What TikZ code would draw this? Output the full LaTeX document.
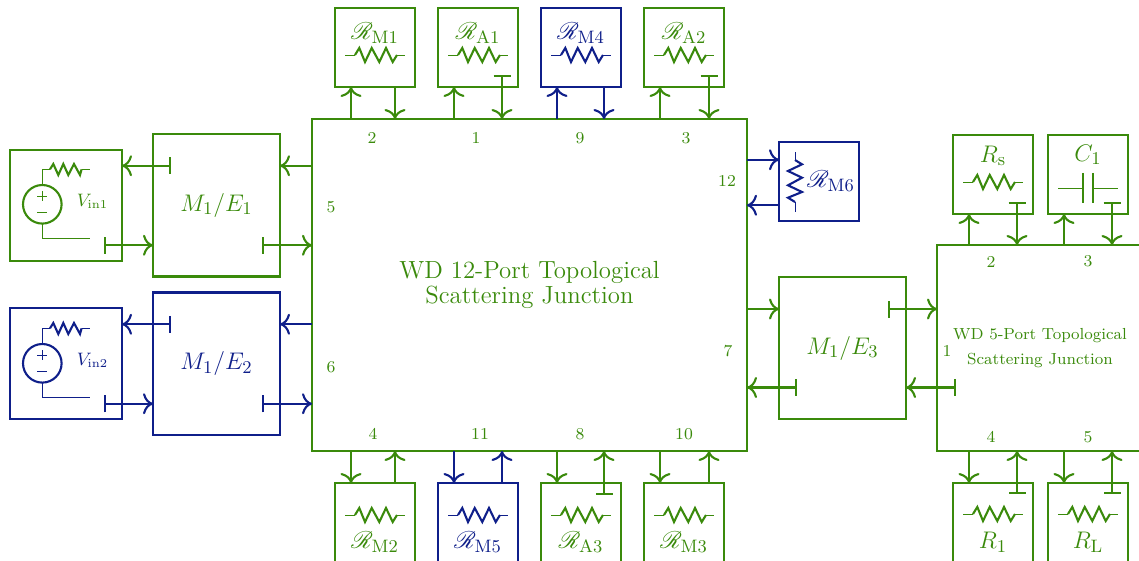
\documentclass[tikz,border=0pt]{standalone}
\usepackage{amsmath}
\usepackage{mathrsfs}
\usepackage{tikz}
\usetikzlibrary{arrows.meta,positioning}
\definecolor{wdgreen}{HTML}{3A8A0B}
\definecolor{wdblue}{HTML}{0F1F8A}

\begin{document}
\begin{tikzpicture}[
x=.5pt,y=-.5pt,
node distance=16pt and 11.5pt,
box/.style={draw,line width=1.1pt,outer sep=0pt,inner sep=0pt,align=center},
gbox/.style={box,draw=wdgreen,text=wdgreen},
bbox/.style={box,draw=wdblue,text=wdblue},
small/.style={minimum width=40pt,minimum height=39.5pt},
conv/.style={minimum width=63.5pt,minimum height=71.25pt,font=\fontsize{12.7}{15}\selectfont},
src/.style={minimum width=56pt,minimum height=55.5pt},
gtxt/.style={text=wdgreen,inner sep=0pt},
btxt/.style={text=wdblue,inner sep=0pt},
prt/.style={gtxt,font=\fontsize{8.3}{10}\selectfont},
lab/.style={font=\fontsize{13}{15}\selectfont},
vlab/.style={font=\fontsize{9}{10}\selectfont},
arr/.style={-{Computer Modern Rightarrow[length=5pt,width=10.5pt]},line width=1.05pt},
tarr/.style={{Bar[width=8.5pt]}-{Computer Modern Rightarrow[length=5pt,width=10.5pt]},line width=1.05pt},
garr/.style={arr,wdgreen},
barr/.style={arr,wdblue},
gtee/.style={tarr,wdgreen},
btee/.style={tarr,wdblue},
resist/.pic={
  \draw[line width=.45pt] (-30,0) -- (-20,0) (22,0) -- (30,0);
  \draw[line width=1.05pt,line join=miter] (-20,0) -- (-15.7,-7) -- (-10,7) -- (-3.3,-7) -- (4.3,7)
    -- (11,-7) -- (17.7,7) -- (22,0);
},
vsource/.pic={
  \draw[line width=1.05pt] (0,0) circle[radius=19.3];
  \draw[line width=.45pt] (0,-19.3) -- (0,-35) -- (7.7,-35) (39.3,-35) -- (47.7,-35);
  \draw[line width=1.05pt] (7.7,-35) -- (11,-40.3) -- (16,-29.3) -- (21,-40.3) -- (26,-29.3) -- (31.7,-40.3)
    -- (37.7,-29.3) -- (39.3,-35);
  \draw[line width=.45pt] (0,19.3) -- (0,34.5) -- (47.7,34.5);
  \draw[line width=.25pt] (-5,-8.3) -- (5,-8.3) (0,-13.3) -- (0,-3.3) (-5,7.7) -- (5,7.7);
}
]
\useasboundingbox (0,0) rectangle (1139,561);
\clip (0,0) rectangle (1139,561);

% main junction
\node[gbox,minimum width=217.5pt,minimum height=166pt,font=\fontsize{12.4}{12.5}\selectfont] (wd) at (529.5,285)
  {WD 12-Port Topological \\ Scattering Junction};

% top row
\node[gbox,small,anchor=south west] (rM1) at ([shift={(23,-32)}]wd.north west) {};
\node[gbox,small,right=of rM1] (rA1) {};
\node[bbox,small,right=of rA1] (rM4) {};
\node[gbox,small,right=of rM4] (rA2) {};
% bottom row
\node[gbox,small,anchor=north west] (rM2) at ([shift={(23,32)}]wd.south west) {};
\node[bbox,small,right=of rM2] (rM5) {};
\node[gbox,small,right=of rM5] (rA3) {};
\node[gbox,small,right=of rA3] (rM3) {};
% left side
\node[gbox,conv,anchor=north east] (me1) at ([shift={(-32,15)}]wd.north west) {$M_1/E_1$};
\node[bbox,conv,below=8pt of me1] (me2) {$M_1/E_2$};
\node[gbox,src,left=15.5pt of me1] (vin1) {};
\node[bbox,src,left=15.5pt of me2] (vin2) {};
% right side
\node[gbox,conv,anchor=west] (me3) at ([shift={(32,63)}]wd.east) {$M_1/E_3$};
\node[bbox,small,above=28pt of me3.north west,anchor=south west] (rM6) {};
\node[gbox,minimum width=103pt,minimum height=103pt,right=15.5pt of me3,font=\fontsize{8}{12.5}\selectfont] (wdf)
  {WD 5-Port Topological \\ Scattering Junction};
\node[gbox,small,anchor=south west] (rs) at ([shift={(16,-31)}]wdf.north west) {};
\node[gbox,small,right=7.5pt of rs] (cone) {};
\node[gbox,small,anchor=north west] (rone) at ([shift={(16,32)}]wdf.south west) {};
\node[gbox,small,right=7.5pt of rone] (rl) {};

% element symbols
\pic[color=wdgreen] at (375,55) {resist};
\pic[color=wdgreen] at (478,55) {resist};
\pic[color=wdblue] at (581,55) {resist};
\pic[color=wdgreen] at (684,55) {resist};
\pic[color=wdgreen] at (375,515) {resist};
\pic[color=wdblue] at (478,515) {resist};
\pic[color=wdgreen] at (581,515) {resist};
\pic[color=wdgreen] at (684,515) {resist};
\pic[color=wdblue,rotate=90] at (795,182) {resist};
\pic[color=wdgreen] at (993,182) {resist};
\pic[color=wdgreen] at (993,514) {resist};
\pic[color=wdgreen] at (1088,514) {resist};
\pic[color=wdgreen] at (42.3,204.3) {vsource};
\pic[color=wdblue] at (42.3,363.3) {vsource};
\draw[wdgreen,line width=.45pt] (1058,188) -- (1083,188) (1093,188) -- (1118,188);
\draw[wdgreen,line width=1.05pt] (1083,173) -- (1083,203) (1093,173) -- (1093,203);

% element labels
\node[gtxt,lab] (lM1) at (375,33) {$\mathscr{R}_{\mathrm{M1}}$};
\node[gtxt,lab] (lA1) at (478,33) {$\mathscr{R}_{\mathrm{A1}}$};
\node[btxt,lab] (lM4) at (581,33) {$\mathscr{R}_{\mathrm{M4}}$};
\node[gtxt,lab] (lA2) at (684,33) {$\mathscr{R}_{\mathrm{A2}}$};
\node[gtxt,lab] (lM2) at (375,542) {$\mathscr{R}_{\mathrm{M2}}$};
\node[btxt,lab] (lM5) at (478,542) {$\mathscr{R}_{\mathrm{M5}}$};
\node[gtxt,lab] (lA3) at (581,542) {$\mathscr{R}_{\mathrm{A3}}$};
\node[gtxt,lab] (lM3) at (684,542) {$\mathscr{R}_{\mathrm{M3}}$};
\node[btxt,lab] (lM6) at (831,181) {$\mathscr{R}_{\mathrm{M6}}$};
\node[gtxt,lab] (lrs) at (993,156) {$R_{\mathrm{s}}$};
\node[gtxt,lab] (lcone) at (1088,155) {$C_1$};
\node[gtxt,lab] (lrone) at (993,542) {$R_1$};
\node[gtxt,lab] (lrl) at (1088,542) {$R_{\mathrm{L}}$};
\node[gtxt,vlab] (lvone) at (92.5,201) {$V_{\mathrm{in}1}$};
\node[btxt,vlab] (lvtwo) at (92.5,360) {$V_{\mathrm{in}2}$};

% port numbers
\node[prt] (ptwo) at (372,138) {2};
\node[prt] (pone) at (476,138) {1};
\node[prt] (pnine) at (580,138) {9};
\node[prt] (pthree) at (686,138) {3};
\node[prt] (pfour) at (373,434) {4};
\node[prt] (pelev) at (480,434) {11};
\node[prt] (peight) at (580,434) {8};
\node[prt] (pten) at (684,434) {10};
\node[prt] (pfive) at (331,207) {5};
\node[prt] (psix) at (331,367) {6};
\node[prt] (ptwel) at (727,181) {12};
\node[prt] (pseven) at (728,351) {7};
\node[prt] (qtwo) at (991,262) {2};
\node[prt] (qthree) at (1088,261) {3};
\node[prt] (qone) at (947,351) {1};
\node[prt] (qfour) at (991,437) {4};
\node[prt] (qfive) at (1088,437) {5};

% top connectors
\draw[garr] ([shift={(-24,0)}]rM1.south |- wd.north) -- ([shift={(-24,0)}]rM1.south);
\draw[garr] ([shift={(20,0)}]rM1.south) -- ([shift={(20,0)}]rM1.south |- wd.north);
\draw[garr] ([shift={(-24,0)}]rA1.south |- wd.north) -- ([shift={(-24,0)}]rA1.south);
\draw[gtee] ([shift={(24,-12)}]rA1.south) -- ([shift={(24,0)}]rA1.south |- wd.north);
\draw[barr] ([shift={(-24,0)}]rM4.south |- wd.north) -- ([shift={(-24,0)}]rM4.south);
\draw[barr] ([shift={(23,0)}]rM4.south) -- ([shift={(23,0)}]rM4.south |- wd.north);
\draw[garr] ([shift={(-24,0)}]rA2.south |- wd.north) -- ([shift={(-24,0)}]rA2.south);
\draw[gtee] ([shift={(25,-12)}]rA2.south) -- ([shift={(25,0)}]rA2.south |- wd.north);

% bottom connectors
\draw[garr] ([shift={(-24,0)}]rM2.north |- wd.south) -- ([shift={(-24,0)}]rM2.north);
\draw[garr] ([shift={(20,0)}]rM2.north) -- ([shift={(20,0)}]rM2.north |- wd.south);
\draw[barr] ([shift={(-24,0)}]rM5.north |- wd.south) -- ([shift={(-24,0)}]rM5.north);
\draw[barr] ([shift={(24,0)}]rM5.north) -- ([shift={(24,0)}]rM5.north |- wd.south);
\draw[garr] ([shift={(-24,0)}]rA3.north |- wd.south) -- ([shift={(-24,0)}]rA3.north);
\draw[gtee] ([shift={(23,12)}]rA3.north) -- ([shift={(23,0)}]rA3.north |- wd.south);
\draw[garr] ([shift={(-24,0)}]rM3.north |- wd.south) -- ([shift={(-24,0)}]rM3.north);
\draw[garr] ([shift={(25,0)}]rM3.north) -- ([shift={(25,0)}]rM3.north |- wd.south);

% left connectors
\draw[garr] ([shift={(0,-39.5)}]me1.east -| wd.west) -- ([shift={(0,-39.5)}]me1.east);
\draw[gtee] ([shift={(-18,40)}]me1.east) -- ([shift={(0,40)}]me1.east -| wd.west);
\draw[gtee] ([shift={(18,-39.5)}]me1.west) -- ([shift={(0,-39.5)}]me1.west -| vin1.east);
\draw[gtee] ([shift={(-18,40)}]vin1.east) -- ([shift={(0,40)}]vin1.east -| me1.west);
\draw[barr] ([shift={(0,-39.5)}]me2.east -| wd.west) -- ([shift={(0,-39.5)}]me2.east);
\draw[btee] ([shift={(-18,40)}]me2.east) -- ([shift={(0,40)}]me2.east -| wd.west);
\draw[btee] ([shift={(18,-39.5)}]me2.west) -- ([shift={(0,-39.5)}]me2.west -| vin2.east);
\draw[btee] ([shift={(-18,40)}]vin2.east) -- ([shift={(0,40)}]vin2.east -| me2.west);

% right connectors
\draw[barr] ([shift={(0,-21.5)}]rM6.west -| wd.east) -- ([shift={(0,-21.5)}]rM6.west);
\draw[barr] ([shift={(0,24)}]rM6.west) -- ([shift={(0,24)}]rM6.west -| wd.east);
\draw[garr] ([shift={(0,-39)}]me3.west -| wd.east) -- ([shift={(0,-39)}]me3.west);
\draw[gtee] ([shift={(18,39.5)}]me3.west) -- ([shift={(0,39.5)}]me3.west -| wd.east);
\draw[gtee] ([shift={(-18,-39)}]me3.east) -- ([shift={(0,-39)}]me3.east -| wdf.west);
\draw[gtee] ([shift={(19,39.5)}]wdf.west) -- ([shift={(0,39.5)}]wdf.west -| me3.east);

% second junction connectors
\draw[garr] ([shift={(-24,0)}]rs.south |- wdf.north) -- ([shift={(-24,0)}]rs.south);
\draw[gtee] ([shift={(24,-12)}]rs.south) -- ([shift={(24,0)}]rs.south |- wdf.north);
\draw[garr] ([shift={(-24,0)}]cone.south |- wdf.north) -- ([shift={(-24,0)}]cone.south);
\draw[gtee] ([shift={(24,-12)}]cone.south) -- ([shift={(24,0)}]cone.south |- wdf.north);
\draw[garr] ([shift={(-24,0)}]rone.north |- wdf.south) -- ([shift={(-24,0)}]rone.north);
\draw[gtee] ([shift={(24,11)}]rone.north) -- ([shift={(24,0)}]rone.north |- wdf.south);
\draw[garr] ([shift={(-24,0)}]rl.north |- wdf.south) -- ([shift={(-24,0)}]rl.north);
\draw[gtee] ([shift={(24,11)}]rl.north) -- ([shift={(24,0)}]rl.north |- wdf.south);
\end{tikzpicture}
\end{document}
